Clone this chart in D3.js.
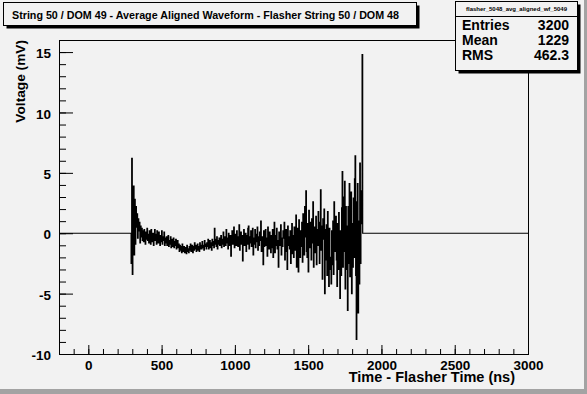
<!DOCTYPE html>
<html>
<head>
<meta charset="utf-8">
<script src="https://cdn.jsdelivr.net/npm/d3@7"></script>
<style>
body { margin: 0; background: #f2f2f2; }
text { font-family: "Liberation Sans", Arial, Helvetica, sans-serif; font-weight: bold; fill: #000; }
</style>
</head>
<body>
<div id="svg"></div>
<script>
var widthSVG = 587;
var heightSVG = 394;

// waveform: first bin time (ns), bin step (ns), values (mV)
var waveStart = 292;
var waveStep = 4;
var waveValues = [
    -2.5, 6.2, -3.4, 2.1, 3.9, -1.8, 2.8, -0.9, 2.2, 0.5,
    1.6, -0.4, 1.2, 0.2, 0.9, -0.8, 0.6, -0.3, 0.4, -0.6,
    0.2, -0.7, 0.3, -0.2, -0.9, 0.1, -0.5, 0.4, -0.6, -0.1,
    -0.8, 0.2, -0.4, -0.9, 0.3, -0.3, -0.7, 0.0, -1.0, -0.2,
    0.3, -0.6, -0.1, -0.9, 0.2, -0.5, -0.8, 0.1, -0.4, -1.0,
    -0.2, -0.7, 0.2, -0.9, -0.3, -0.6, 0.1, -1.0, -0.4, -0.8,
    -0.3, -1.0, -0.5, -0.2, -1.1, -0.6, -0.9, -0.3, -1.2, -0.5,
    -0.8, -1.1, -0.4, -1.2, -0.7, -1.0, -0.5, -1.3, -0.9, -0.6,
    -1.2, -0.9, -1.5, -1.0, -1.4, -1.1, -1.6, -0.9, -1.3, -1.5,
    -1.1, -1.6, -1.2, -1.4, -1.7, -1.0, -1.5, -1.3, -1.6, -1.1,
    -1.4, -0.9, -1.5, -1.2, -1.0, -1.6, -1.1, -1.4, -0.8, -1.3,
    -1.0, -1.5, -1.2, -0.9, -1.4, -1.1, -1.5, -0.8, -1.3, -1.0,
    -1.3, -0.7, -1.2, -1.0, -1.4, -0.6, -1.1, -0.9, -1.3, -0.8,
    -1.1, -0.5, -1.3, -0.9, -0.6, -1.2, -0.8, -1.4, -0.5, -1.0,
    -0.7, -1.2, 0.4, -0.9, -0.5, -1.1, -0.3, -1.3, -0.6, -0.9,
    -0.4, -1.0, -0.7, -0.2, -1.2, -0.5, -0.9, 0.1, -1.1, -0.6,
    -0.3, -1.0, 0.3, -0.8, -0.4, -1.3, 0.0, -0.7, -1.0, -0.2,
    -1.9, -0.5, 0.2, -0.9, -0.3, 0.5, -1.2, -0.6, -0.1, -1.0,
    0.2, -0.7, -1.1, -0.3, 0.7, -1.4, -0.5, 0.1, -0.9, -0.2,
    -2.3, -0.4, 0.3, -1.0, -0.6, 0.0, -1.5, -0.2, -0.9, 0.4,
    0.6, -1.3, -0.3, -0.8, 0.2, -1.1, -0.5, 0.4, -1.8, -0.4,
    -0.9, 0.3, -1.2, -0.1, -0.7, 0.5, -1.4, -0.3, -1.0, 0.1,
    -0.6, 1.0, -1.5, -0.3, -0.9, -2.6, 0.2, -1.1, -0.4, 0.3,
    -1.0, -0.4, -1.9, 0.5, -0.7, -1.3, 0.1, -0.8, -1.6, -0.2,
    -1.2, 0.3, -2.0, -0.5, 0.9, -1.6, -0.2, -1.0, 0.4, -1.3,
    -0.6, -2.8, 0.1, -1.0, -0.3, 0.7, -1.8, -0.4, -1.1, 0.2,
    -0.4, 0.9, -2.2, -0.7, 0.3, -1.5, -3.0, 0.6, -1.0, -0.3,
    -1.3, 0.2, -2.5, -0.6, 0.8, -1.7, -0.2, -2.0, 0.5, -0.9,
    -1.4, 1.5, -2.8, 0.4, -1.0, -3.2, 1.1, -0.5, -2.0, 0.2,
    -1.1, 0.9, -2.4, 1.6, -0.7, -1.8, 2.2, -0.3, 3.5, -1.5,
    -2.0, 0.8, -3.2, 1.9, -1.2, -0.3, 0.9, -2.2, 1.2, -0.8,
    2.6, -2.8, 0.5, -1.6, -0.2, 1.4, -2.6, 0.3, -1.0, 1.8,
    0.9, -2.5, -0.8, 3.6, -1.4, 0.6, -3.8, 1.2, -0.5, 2.0,
    -5.0, 0.3, -2.2, 0.7, -3.5, 1.8, -1.2, -4.4, 0.4, -2.0,
    -3.0, -4.2, 0.2, -2.6, 1.0, -3.4, 2.6, -1.5, -0.6, 1.4,
    -2.2, -4.4, 0.8, -3.0, 1.7, -1.8, -5.4, 0.2, -3.5, 2.1,
    5.1, -2.8, 3.0, -1.5, 4.3, -4.6, 2.2, -3.0, 0.6, -6.4,
    2.2, -2.5, 4.1, -3.6, 1.5, 3.4, -5.0, 0.8, -2.8, 2.9,
    -2.0, 4.5, 6.4, -3.5, -8.8, 2.6, 4.1, -6.6, 1.0, -4.2,
    5.8, -2.5, 3.5, 0.8, 14.8
];

var xTicks = [0, 500, 1000, 1500, 2000, 2500, 3000];
var yTicks = [-10, -5, 0, 5, 10, 15];

var title = "String 50 / DOM 49 - Average Aligned Waveform - Flasher String 50 / DOM 48";
var histName = "flasher_5048_avg_aligned_wf_5049";
var statNames = ["Entries", "Mean", "RMS"];
var statValues = ["3200", "1229", "462.3"];
var xTitle = "Time - Flasher Time (ns)";
var yTitle = "Voltage (mV)";

var svg = d3.select("#svg")
    .append("svg")
    .attr("width", widthSVG)
    .attr("height", heightSVG);

svg.append("rect")
    .attr("width", widthSVG)
    .attr("height", heightSVG)
    .attr("fill", "#f2f2f2");

// canvas bevel
svg.append("rect").attr("x", 0).attr("y", heightSVG - 5).attr("width", widthSVG).attr("height", 5).attr("fill", "#a3a3a3");
svg.append("rect").attr("x", widthSVG - 3).attr("y", 0).attr("width", 3).attr("height", heightSVG).attr("fill", "#a3a3a3");

var fLeft = 59, fTop = 40, fRight = 528, fBottom = 354;

var x = d3.scaleLinear().domain([-200, 3000]).range([fLeft, fRight]);
var y = d3.scaleLinear().domain([-10, 16]).range([fBottom, fTop]);

//histogram line
var pts = [[-200, 0]];
for (var i = 0; i < waveValues.length; i++) {
    pts.push([waveStart + i * waveStep, waveValues[i]]);
}
pts.push([waveStart + waveValues.length * waveStep, 0]);
pts.push([3000, 0]);

var line = d3.line()
    .x(function(d) { return x(d[0]); })
    .y(function(d) { return y(d[1]); })
    .curve(d3.curveStepAfter);

svg.append("path")
    .datum(pts)
    .attr("fill", "none")
    .attr("stroke", "black")
    .attr("stroke-width", 1.2)
    .attr("d", line);

// axes, ticks pointing into the frame
function styleAxis(g) {
    g.select(".domain").remove();
    g.selectAll("line").attr("stroke", "black");
    g.selectAll("text").attr("font-size", "13.5px").attr("font-family", null);
}
var plain = function(d) { return String(d); };

svg.append("g")
    .attr("transform", "translate(" + fLeft + ",0)")
    .call(d3.axisLeft(y).tickValues(d3.range(-10, 17, 1)).tickSize(-7).tickFormat(""))
    .call(styleAxis);
svg.append("g")
    .attr("transform", "translate(" + fLeft + ",0)")
    .call(d3.axisLeft(y).tickValues(yTicks).tickSize(-14).tickPadding(8).tickFormat(plain))
    .call(styleAxis)
    .selectAll("text").attr("dy", "0.42em");

svg.append("g")
    .attr("transform", "translate(0," + fBottom + ")")
    .call(d3.axisBottom(x).tickValues(d3.range(-200, 3001, 100)).tickSize(-5).tickFormat(""))
    .call(styleAxis);
svg.append("g")
    .attr("transform", "translate(0," + fBottom + ")")
    .call(d3.axisBottom(x).tickValues(xTicks).tickSize(-9).tickPadding(6).tickFormat(plain))
    .call(styleAxis);

svg.append("rect")
    .attr("x", fLeft + 0.5)
    .attr("y", fTop + 0.5)
    .attr("width", fRight - fLeft)
    .attr("height", fBottom - fTop)
    .attr("fill", "none")
    .attr("stroke", "black");

svg.append("text")
    .attr("x", fRight - 13)
    .attr("y", 382)
    .attr("text-anchor", "end")
    .attr("font-size", "14.5px")
    .text(xTitle);

svg.append("text")
    .attr("transform", "translate(25,40) rotate(-90)")
    .attr("text-anchor", "end")
    .attr("font-size", "13.7px")
    .text(yTitle);

// title box with shadow
svg.append("rect").attr("x", 6.5).attr("y", 5.5).attr("width", 413).attr("height", 23).attr("fill", "black");
svg.append("rect").attr("x", 3.5).attr("y", 2.5).attr("width", 413).attr("height", 23)
    .attr("fill", "#f2f2f2").attr("stroke", "black");
svg.append("text")
    .attr("x", 12)
    .attr("y", 19)
    .attr("font-size", "11.5px")
    .attr("textLength", 387)
    .attr("lengthAdjust", "spacingAndGlyphs")
    .text(title);

// stats box
svg.append("rect").attr("x", 458.5).attr("y", 4.5).attr("width", 122).attr("height", 69).attr("fill", "black");
svg.append("rect").attr("x", 455.5).attr("y", 1.5).attr("width", 122).attr("height", 69)
    .attr("fill", "#f2f2f2").attr("stroke", "black");
svg.append("line").attr("x1", 455.5).attr("x2", 577.5).attr("y1", 16.5).attr("y2", 16.5).attr("stroke", "black");
svg.append("text")
    .attr("x", 516.5)
    .attr("y", 11)
    .attr("text-anchor", "middle")
    .attr("font-size", "6px")
    .attr("font-weight", "normal")
    .text(histName);

for (var i = 0; i < statNames.length; i++) {
    svg.append("text")
        .attr("x", 462)
        .attr("y", 30 + i * 15)
        .attr("font-size", "14px")
        .text(statNames[i]);
    svg.append("text")
        .attr("x", 569)
        .attr("y", 30 + i * 15)
        .attr("text-anchor", "end")
        .attr("font-size", "14px")
        .text(statValues[i]);
}
</script>
</body>
</html>
